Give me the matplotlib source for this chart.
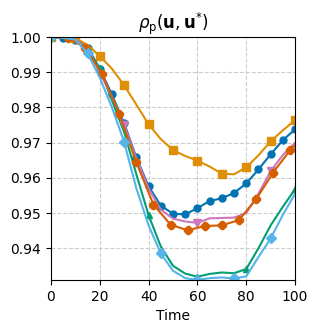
import numpy as np
import matplotlib.pyplot as plt

# DATA

t5 = np.arange(0, 101, 5)
t7 = np.array([0, 7, 14, 21, 28, 35, 42, 49, 56, 63, 70, 77, 84, 91, 98, 100])

rho_blue = [1.0, 0.9996, 0.9992, 0.9970, 0.9910, 0.9837, 0.9755, 0.9658, 0.9576,
            0.9521, 0.9498, 0.9496, 0.9514, 0.9534, 0.9542, 0.9557, 0.9584, 0.9624,
            0.9667, 0.9707, 0.9738]
rho_orange = [1.0, 0.9999, 0.9997, 0.9978, 0.9946, 0.9910, 0.9863, 0.9808, 0.9752,
              0.9710, 0.9679, 0.9662, 0.9649, 0.9632, 0.9612, 0.9610, 0.9630, 0.9664,
              0.9704, 0.9735, 0.9764]
rho_green = [1.0, 0.9998, 0.9993, 0.9968, 0.9911, 0.9820, 0.9730, 0.9610, 0.9494,
             0.9405, 0.9350, 0.9328, 0.9319, 0.9327, 0.9331, 0.9329, 0.9341, 0.9400,
             0.9465, 0.9518, 0.9568]
rho_lblue = [1.0, 0.9998, 0.9993, 0.9954, 0.9885, 0.9800, 0.9702, 0.9570, 0.9465,
             0.9385, 0.9336, 0.9315, 0.9310, 0.9315, 0.9317, 0.9314, 0.9320, 0.9375,
             0.9428, 0.9495, 0.9555]
rho_pink = [1.0, 0.9998, 0.9993, 0.9965, 0.9900, 0.9830, 0.9750, 0.9655, 0.9570,
            0.9510, 0.9484, 0.9476, 0.9472, 0.9485, 0.9486, 0.9487, 0.9500, 0.9555,
            0.9619, 0.9665, 0.9700]
rho_red = [1.0, 0.9997, 0.9970, 0.9895, 0.9781, 0.9644, 0.9524, 0.9467, 0.9451,
           0.9463, 0.9465, 0.9480, 0.9539, 0.9615, 0.9679, 0.9692]

# PLOT

fig = plt.figure(figsize=(3.18, 3.34), dpi=100)
ax = fig.add_axes([0.160, 0.162, 0.768, 0.727])

ax.plot(t5, rho_blue, 'o-', color='#0173b2', ms=5, lw=1.5, markevery=1)
ax.plot(t5, rho_orange, 's-', color='#de8f05', ms=6, lw=1.5, markevery=2)
ax.plot(t5, rho_green, '^-', color='#029e73', ms=5, lw=1.5, markevery=4)
ax.plot(t5, rho_pink, 'v-', color='#cc78bc', ms=6, lw=1.5, markevery=6)
ax.plot(t7, rho_red, '8-', color='#d55e00', ms=5.5, lw=1.5, markevery=slice(0, 15))
ax.plot(t5, rho_lblue, 'D-', color='#56b4e9', ms=5, lw=1.5, markevery=3)

ax.set_xlim(0, 100)
ax.set_ylim(0.931, 1.0)
ax.set_xticks(np.arange(0, 101, 20))
ax.set_yticks(np.arange(0.94, 1.001, 0.01))
ax.yaxis.set_major_formatter(plt.FormatStrFormatter('%.2f'))
ax.grid(True, linestyle='--', color='#cccccc', lw=0.8)
ax.set_xlabel("Time")
ax.set_title(r'$\rho_{\mathrm{p}}(\mathbf{u}, \mathbf{u}^{*})$', fontsize=12)

fig.savefig("out.png", dpi=100)
